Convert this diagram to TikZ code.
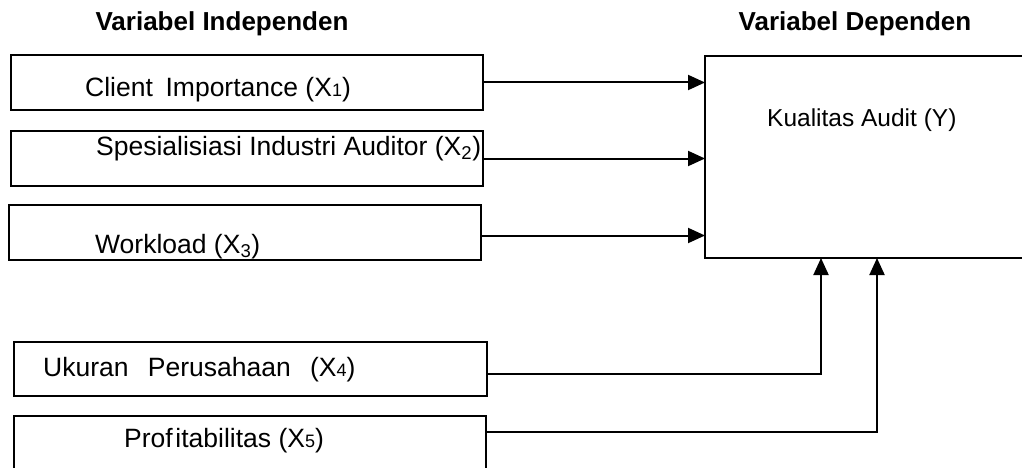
\documentclass[tikz,border=0pt]{standalone}
\usepackage{fontspec}
\setmainfont{Liberation Sans}
\usetikzlibrary{arrows.meta}
\newcommand{\smalldigit}[1]{{\fontsize{18}{20}\selectfont #1}}
\begin{document}
\begin{tikzpicture}[x=1pt,y=-1pt,
  box/.style={draw,line width=2pt,inner sep=0pt,outer sep=0pt,anchor=north west},
  lbl/.style={font=\fontsize{26.5}{30}\selectfont,inner sep=0pt,anchor=base west},
  hdr/.style={font=\bfseries\fontsize{26}{30}\selectfont,inner sep=0pt,anchor=base},
  conn/.style={line width=2pt,-{Triangle[length=17pt,width=15pt]}}]
\useasboundingbox (0,0) rectangle (1022,468);
\clip (0,0) rectangle (1022,468);
% headers
\node[hdr] (hi) at (222,31) {Variabel Independen};
\node[hdr] (hd) at (855,31) {Variabel Dependen};
% boxes
\node[box,minimum width=472pt,minimum height=55pt] (b1) at (11,55) {};
\node[box,minimum width=472pt,minimum height=55pt] (b2) at (11,131) {};
\node[box,minimum width=472pt,minimum height=55pt] (b3) at (9,205) {};
\node[box,minimum width=473pt,minimum height=54pt] (b4) at (14,342) {};
\node[box,minimum width=472pt,minimum height=60pt] (b5) at (14,416) {};
\node[box,minimum width=330pt,minimum height=202pt] (y) at (705,56) {};
% labels
\node[lbl] (t1) at (85,97) {Client\hspace{0.2em} Importance (X\smalldigit{1})};
\node[lbl] (t2) at (96,155) {Spesialisiasi Industri Auditor (X\textsubscript{2})};
\node[lbl] (t3) at (95,253) {Workload (X\textsubscript{3})};
\node[lbl] (t4) at (43,376) {Ukuran\hspace{0.45em} Perusahaan\hspace{0.45em} (X\smalldigit{4})};
\node[lbl] (t5) at (124,447) {Prof\hspace{0.1em}itabilitas (X\smalldigit{5})};
\node[lbl,font=\fontsize{24.5}{28}\selectfont] (ty) at (767,127) {Kualitas Audit (Y)};
% connectors
\draw[conn] (b1.east) -- (b1.east -| y.west);
\draw[conn] (b2.east) -- (b2.east -| y.west);
\draw[conn] ([yshift=-3pt]b3.east) -- ([yshift=-3pt]b3.east -| y.west);
\draw[conn] ([yshift=-5pt]b4.east) -| ([xshift=116pt]y.south west);
\draw[conn] ([yshift=14pt]b5.east) -| ([xshift=172pt]y.south west);
\end{tikzpicture}
\end{document}
